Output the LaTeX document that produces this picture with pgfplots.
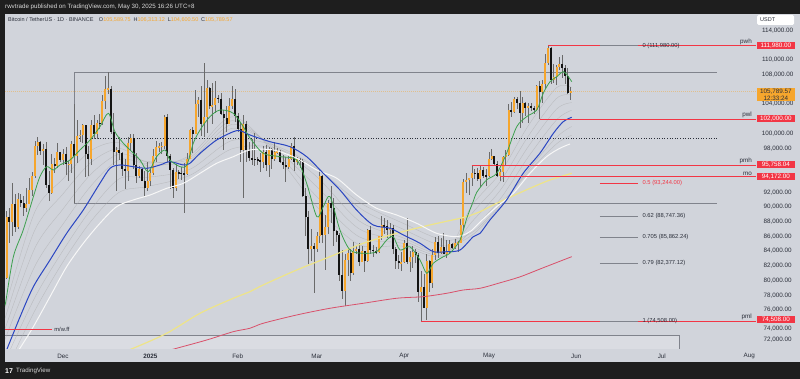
\documentclass[border=0pt]{standalone}
\usepackage{fontspec}
\setmainfont{Liberation Sans}
\usepackage{pgfplots}
\pgfplotsset{compat=1.18}
\usepackage{pgfplotstable}
\definecolor{darkbg}{HTML}{1E1E1E}
\definecolor{bg}{HTML}{D1D4DB}
\definecolor{bglight}{HTML}{DADCE2}
\definecolor{upc}{HTML}{F6A62D}
\definecolor{dnc}{HTML}{141414}
\definecolor{wick}{HTML}{6A6A6A}
\definecolor{emag}{HTML}{3DA04E}
\definecolor{emab}{HTML}{2A46C2}
\definecolor{emaw}{HTML}{F7F7F7}
\definecolor{smay}{HTML}{EEE488}
\definecolor{smar}{HTML}{D9506A}
\definecolor{tvred}{HTML}{F23645}
\definecolor{boxg}{HTML}{80838C}
\definecolor{labtxt}{HTML}{2A2E39}
\definecolor{curp}{HTML}{F6A62D}

\pgfplotstableread{
d o h l c
-20 80370 89530 80216 88648
-19 88648 89940 85072 87952
-18 87952 93265 86127 90375
-17 90375 91790 86668 87325
-16 87325 91850 87073 91032
-15 91032 91779 90056 90587
-14 90587 91449 88722 89855
-13 89855 92594 89376 90465
-12 90465 93905 90357 92310
-11 92310 94831 91500 94286
-10 94286 98988 94014 98318
-9 98318 99588 97122 98892
-8 98892 98945 97139 97672
-7 97672 98564 95734 97900
-6 97900 98871 92600 93010
-5 93010 94973 90791 91965
-4 91965 97208 91792 95863
-3 95863 96650 94613 95644
-2 95644 98694 95365 97460
-1 97460 97463 96092 96407
0 96407 97836 95693 97185
1 97185 98130 94395 95840
2 95840 96305 93578 95849
3 95849 99000 94587 98587
4 98587 104088 90500 96945
5 96945 101898 95981 99740
6 99740 100439 98844 99831
7 99831 101350 98657 101109
8 101109 101215 94150 97276
9 97276 98270 94256 96593
10 96593 101895 95658 101125
11 101125 102540 99311 100004
12 100004 101895 99205 101424
13 101424 102650 100609 101420
14 101420 105250 101237 104463
15 104463 107793 103333 106058
16 106058 108353 105321 106134
17 106134 106470 100000 100204
18 100204 102800 95700 97461
19 97461 98233 92232 97805
20 97805 99540 96398 97291
21 97291 97448 94250 95187
22 95187 96538 92520 94900
23 94900 99487 93500 98717
24 98717 99960 97600 99420
25 99420 99963 95200 95705
26 95705 97294 93253 94164
27 94164 95525 94014 95164
28 95164 95250 93500 93530
29 93530 94903 91317 92643
30 92643 96150 92120 93576
31 93576 95151 92888 94591
32 94591 97839 94392 96984
33 96984 98976 96100 98174
34 98174 98734 97562 98220
35 98220 98836 97276 98364
36 98364 102480 97929 102235
37 102235 102725 96181 96954
38 96954 97259 92500 95060
39 95060 95382 91203 92552
40 92552 95836 92206 94726
41 94726 95050 93831 94599
42 94599 95450 93711 94545
43 94545 95940 89256 94536
44 94536 97371 94346 96560
45 96560 100681 96500 100497
46 100497 100866 97335 99987
47 99987 105865 99950 104077
48 104077 104988 102277 104556
49 104556 106422 99651 101331
50 101331 109588 99550 102260
51 102260 107240 100119 106143
52 106143 106394 103339 103706
53 103706 106850 101262 103910
54 103910 107120 102750 104870
55 104870 105286 104106 104746
56 104746 105500 102520 102620
57 102620 103260 97777 102082
58 102082 103800 100272 101335
59 101335 104782 101328 103734
60 103734 106457 103319 104722
61 104722 106012 101560 102429
62 102429 102783 100279 100635
63 100635 101456 96150 97700
64 97700 102500 91231 101328
65 101328 101744 96150 97763
66 97763 98827 96252 96613
67 96613 99197 95676 96555
68 96555 100137 95620 96481
69 96481 96880 95688 96465
70 96465 97323 94713 96086
71 96086 98345 95256 97430
72 97430 98478 94876 95778
73 95778 98119 94088 97869
74 97869 98076 95217 96608
75 96608 98826 96252 97500
76 97500 97972 97223 97569
77 97569 97704 96046 96118
78 96118 97046 95205 95780
79 95780 96753 93388 95467
80 95467 96890 95172 96553
81 96553 98711 96415 98338
82 98338 99475 94871 96126
83 96126 96880 95688 96577
84 96577 96671 95270 96273
85 96273 96503 91370 91552
86 91552 92540 86050 88680
87 88680 89414 82256 84250
88 84250 87078 82716 84709
89 84709 85120 78258 84349
90 84349 86558 83824 86064
91 86064 95000 85050 94270
92 94270 94416 85117 86220
93 86221 88967 81500 87281
94 87281 91000 86334 90606
95 90606 92810 87836 89931
96 89931 91283 84667 86801
97 86801 86897 85248 86222
98 86222 86500 80000 80734
99 80734 84123 77459 78598
100 78598 83617 76606 82862
101 82862 84358 80635 83722
102 83722 84301 79931 81066
103 81066 85309 80818 83969
104 83969 84672 83639 84343
105 84343 85051 82017 82579
106 82579 84725 82492 84075
107 84075 84075 81179 82718
108 82718 87021 82569 86854
109 86854 87453 83655 84167
110 84167 84850 83175 84043
111 84043 84513 83674 83832
112 83832 86094 83795 86054
113 86054 88765 85519 87499
114 87499 88542 86346 87471
115 87471 88292 85861 86900
116 86900 87786 85837 87177
117 87177 87515 83646 84353
118 84353 84567 81634 82597
119 82597 83505 81565 82334
120 82334 83870 81293 82548
121 82548 85487 82429 85159
122 85159 88500 82320 82516
123 82516 83998 81211 83213
124 83213 84720 81659 83889
125 83889 84266 82379 83537
126 83537 83817 77153 78430
127 78430 81243 74508 79163
128 79163 80867 76239 76322
129 76322 83588 74620 82615
130 82615 82753 78464 79607
131 79607 84300 78969 83423
132 83423 85905 82792 85276
133 85276 86100 83034 83760
134 83760 85799 83678 84591
135 84591 86496 83600 83643
136 83643 85500 83111 84030
137 84030 85470 83736 84947
138 84947 85132 84303 84474
139 84474 85595 84290 85077
140 85077 85320 83949 85179
141 85179 88465 85144 87516
142 87516 93888 87076 93442
143 93442 94696 91935 93691
144 93691 94000 91660 93980
145 93980 95758 92855 94638
146 94638 95199 93870 94631
147 94631 95369 93602 93754
148 93754 95600 92800 94978
149 94978 95470 93956 94284
150 94284 95249 92910 94172
151 94172 97437 94111 96489
152 96489 97895 96350 96887
153 96887 96935 95753 95856
154 95856 96304 94151 94277
155 94277 95199 93514 94733
156 94733 96920 93377 96834
157 96834 97732 95784 97032
158 97032 103971 96913 103241
159 103241 104361 102316 102971
160 102971 104984 102818 104696
161 104696 104938 103358 104106
162 104106 105819 100719 102812
163 102812 104976 101430 104169
164 104169 104250 102363 103539
165 103539 104192 101383 103744
166 103744 104150 103111 103489
167 103489 103716 102612 103191
168 103191 106660 103105 106430
169 106430 107108 102000 105606
170 105606 107320 104184 106792
171 106792 110797 106100 109643
172 109643 111980 109285 111696
173 111696 111800 106800 107318
174 107318 109500 106863 107762
175 107762 109313 106600 109004
176 109004 110422 108670 109434
177 109434 110718 107516 108938
178 108938 109300 106682 107781
179 107781 108910 105322 105590
180 105590 106313 104600 105790
}\candles

\pgfplotstableread{
d p
-20.57 76700
-20.2 77362
-17.6 83253
-14.1 86885
-10.5 91416
-8.2 94137
-5.8 95497
-3.4 95048
-1.1 95729
2.5 96409
6.0 97769
9.6 99130
13.1 100939
16.1 102762
18.4 100259
21.4 98681
23.8 97769
27.3 96409
30.2 94817
33.2 96858
36.2 97769
37.9 96409
41.5 95497
43.9 95729
46.2 98681
48.6 100490
52.1 102300
55.7 103211
60.4 102762
63.9 100939
66.3 99400
71.0 97320
77.0 96858
82.9 96409
86.4 93239
90.0 88695
92.3 90055
94.7 91416
98.2 86885
101.8 84164
106.5 83715
111.2 83933
114.8 85525
117.1 85974
119.5 84164
123.0 84613
126.6 82804
129.0 80994
131.3 82355
134.9 83253
137.2 83715
140.8 85525
143.2 88500
145.5 90800
146.7 92000
150.2 93688
153.8 94599
157.3 97320
160.9 100939
164.4 102300
168.0 103211
170.3 105483
172.7 107061
175.1 107742
177.4 108422
179.2 107742
180.4 107061
}\green

\pgfplotstableread{
d p
-20.57 70080
-19.75 70790
-15.2 75090
-10.5 79171
-4.6 82804
1.3 86436
7.2 89606
13.1 93239
16.7 95279
20.2 95729
24.9 95497
29.7 95279
34.4 95729
37.9 96177
42.7 95729
45.0 95960
48.6 97320
54.5 99130
60.4 100259
62.8 100395
66.3 99810
73.4 98898
80.5 98218
86.4 96858
92.3 94599
98.2 92327
104.1 89606
110.0 87566
116.0 87116
120.7 86205
126.6 85076
131.3 83933
136.1 83933
140.8 84164
145.5 85974
147.9 86436
151.4 88246
157.3 90967
163.2 94599
169.1 97320
173.9 100041
177.4 101619
180.4 102218
}\blue

\pgfplotstableread{
d p
-20.57 67500
-15.2 70830
-10.5 73729
-4.6 77811
1.3 81892
7.2 85076
13.1 87797
19.0 90055
24.9 90967
30.9 91647
36.8 92558
42.7 93239
48.6 94599
54.5 95960
60.4 96858
66.3 97770
74.6 97769
82.9 96640
90.0 95048
97.1 93919
104.1 91647
111.2 89838
118.3 88926
125.4 87797
132.5 86436
139.6 85974
144.3 86654
147.9 87974
153.8 90055
159.7 91878
165.6 94599
171.5 96858
176.2 98000
179.8 98586
}\white

\pgfplotstableread{
d p
10 68500
24.9 70790
36.8 72831
48.6 75552
60.4 77593
66.3 78491
71.0 79403
82.9 81443
94.7 83253
106.5 85076
118.3 86436
130.1 87566
142.0 88590
147.9 89375
153.8 90518
165.6 92558
172.7 93688
180.4 94599
}\yellow

\pgfplotstableread{
d p
25 69200
40.3 70790
51.0 71920
60.4 73049
66.3 73512
71.0 74192
82.9 75321
94.7 76233
106.5 76913
118.3 77593
127.8 77811
136.1 78273
142.0 78722
147.9 78954
155.0 79700
162.0 80500
170.0 81700
180.4 83253
}\red

\pgfplotstableread{
d g1 g2 g3 g4 w1 w2
-20.57 76272 74844 73416 71988 69040 67520
-10 89336 86872 84408 81944 77687 75893
0 93846 91792 89738 87684 84087 82543
10 97706 96112 94518 92924 89720 88110
20 98740 97980 97220 96460 93867 92033
30 95600 96100 96200 95900 94050 92800
45 97032 96764 96496 96228 95140 94320
60 102280 101760 101240 100720 99067 97933
75 97340 97680 98020 98360 98383 98067
90 90056 91412 92768 94124 95337 95193
105 84880 85960 87040 88120 89933 90667
120 84700 85100 85500 85900 87100 87900
135 83386 83522 83658 83794 84720 85510
145 90200 89100 88000 86900 86167 86533
155 94620 93440 92260 91080 90100 90300
165 101080 99660 98240 96820 95067 94733
175 106240 104780 103320 101860 99500 98600
180.4 106270 105240 104210 103180 100967 99783
}\ribbon

\tikzset{
  plab/.style={font=\fontsize{6.3}{7}\selectfont, text=labtxt, inner sep=0.5pt},
  rbox/.style={fill=tvred, text=white, font=\fontsize{6.3}{7}\selectfont, minimum width=38pt, minimum height=7pt, inner sep=0.4pt},
  flab/.style={font=\fontsize{5.8}{7}\selectfont, text=labtxt, anchor=west, inner sep=0.5pt},
  mlab/.style={font=\fontsize{6.3}{7}\selectfont, text=labtxt, inner sep=0.5pt},
  llab/.style={font=\fontsize{6.3}{7}\selectfont, text=labtxt, anchor=south east, inner sep=0.8pt},
}

\begin{document}
\begin{tikzpicture}
\fill[darkbg] (0pt,0pt) rectangle (800pt,379pt);
\fill[bg] (5pt,17pt) rectangle (800pt,30pt);
\begin{axis}[
  at={(5pt,30pt)}, anchor=south west,
  scale only axis, width=795pt, height=335pt,
  xmin=-20.57, xmax=261.35, ymin=70690, ymax=116272,
  axis line style={draw=none}, ticks=none,
  axis background/.style={fill=bg},
]
% bottom lighter band
\addplot[draw=none, fill=bglight, forget plot] coordinates {(-20.57,70690) (218.4,70690) (218.4,72600) (-20.57,72600)} -- cycle;
\addplot[boxg, line width=0.6pt, forget plot] coordinates {(-20.57,72600) (218.4,72600) (218.4,70690)};

% range box
\addplot[boxg, line width=0.8pt, forget plot] coordinates {(231.9,108353) (4,108353) (4,90500) (231.9,90500)};
\addplot[labtxt, line width=0.5pt, dash pattern=on 1pt off 1.6pt, forget plot] coordinates {(4,99426) (231.9,99426)};

% current price line
\addplot[curp, opacity=0.45, line width=0.4pt, dash pattern=on 1pt off 1pt, forget plot] coordinates {(-20.57,105790) (245.7,105790)};

% ribbons
\foreach \col in {g1,g2,g3,g4,w1,w2}{
  \addplot[gray!70, opacity=0.55, line width=0.35pt, smooth, forget plot] table[x=d, y=\col] {\ribbon};
}

% wicks
\addplot[draw=none, mark=none, forget plot,
  error bars/.cd, y dir=both, y explicit, error mark=none,
  error bar style={draw=wick, line width=0.6pt}]
  table[x=d, y expr={(\thisrow{h}+\thisrow{l})/2}, y error expr={(\thisrow{h}-\thisrow{l})/2}] {\candles};
% up bodies
\addplot[draw=none, mark=none, forget plot,
  restrict expr to domain={\thisrow{c}-\thisrow{o}}{0:1000000},
  error bars/.cd, y dir=both, y explicit, error mark=none,
  error bar style={draw=upc, line width=2pt}]
  table[x=d, y expr={(\thisrow{o}+\thisrow{c})/2}, y error expr={max(abs(\thisrow{c}-\thisrow{o})/2,70)}] {\candles};
% down bodies
\addplot[draw=none, mark=none, forget plot,
  restrict expr to domain={\thisrow{o}-\thisrow{c}}{0.5:1000000},
  error bars/.cd, y dir=both, y explicit, error mark=none,
  error bar style={draw=dnc, line width=2pt}]
  table[x=d, y expr={(\thisrow{o}+\thisrow{c})/2}, y error expr={max(abs(\thisrow{c}-\thisrow{o})/2,70)}] {\candles};

% moving averages
\addplot[smar, line width=0.8pt, smooth] table[x=d,y=p] {\red};
\addplot[smay, line width=1.2pt, smooth] table[x=d,y=p] {\yellow};
\addplot[emaw, line width=1pt, smooth] table[x=d,y=p] {\white};
\addplot[emab, line width=1pt, smooth] table[x=d,y=p] {\blue};
\addplot[emag, line width=0.8pt, smooth] table[x=d,y=p] {\green};

% key levels
\addplot[tvred, line width=0.5pt, forget plot] coordinates {(172,111980) (245.7,111980)};
\addplot[tvred, line width=0.5pt, forget plot] coordinates {(169,102000) (245.7,102000)};
\addplot[tvred, line width=0.5pt, forget plot] coordinates {(145,95758.04) (245.7,95758.04)};
\addplot[tvred, line width=0.5pt, forget plot] coordinates {(155,94172) (245.7,94172)};
\addplot[tvred, line width=0.5pt, forget plot] coordinates {(127,74508) (245.7,74508)};
\addplot[tvred, line width=0.5pt, forget plot] coordinates {(-20.57,73400) (-3.9,73400)};

% fib levels
\addplot[boxg, line width=0.7pt, forget plot] coordinates {(190.4,111980) (203.9,111980)};
\addplot[tvred, line width=0.7pt, forget plot] coordinates {(190.4,93244) (203.9,93244)};
\addplot[boxg, line width=0.7pt, forget plot] coordinates {(190.4,88747.36) (203.9,88747.36)};
\addplot[boxg, line width=0.7pt, forget plot] coordinates {(190.4,85862.24) (203.9,85862.24)};
\addplot[boxg, line width=0.7pt, forget plot] coordinates {(190.4,82377.12) (203.9,82377.12)};
\addplot[boxg, line width=0.7pt, forget plot] coordinates {(190.4,74508) (203.9,74508)};

\node[flab] at (axis cs:205.3,111980) {0 (111,980.00)};
\node[flab, text=tvred] at (axis cs:205.3,93244) {0.5 (93,244.00)};
\node[flab] at (axis cs:205.3,88747.36) {0.62 (88,747.36)};
\node[flab] at (axis cs:205.3,85862.24) {0.705 (85,862.24)};
\node[flab] at (axis cs:205.3,82377.12) {0.79 (82,377.12)};
\node[flab] at (axis cs:205.3,74508) {1 (74,508.00)};

\node[flab] at (axis cs:-3.3,73400) {m/w.ff};

% level names
\node[llab] at (axis cs:244.6,111980) {pwh};
\node[llab] at (axis cs:244.6,102000) {pwl};
\node[llab] at (axis cs:244.6,95758.04) {pmh};
\node[llab] at (axis cs:244.6,94172) {mo};
\node[llab] at (axis cs:244.6,74508) {pml};

% price scale
\node[plab] at (axis cs:253.4,114000) {114,000.00};
\node[plab] at (axis cs:253.4,110000) {110,000.00};
\node[plab] at (axis cs:253.4,108000) {108,000.00};
\node[plab] at (axis cs:253.4,104000) {104,000.00};
\node[plab] at (axis cs:253.4,100000) {100,000.00};
\node[plab] at (axis cs:253.4,98000) {98,000.00};
\node[plab] at (axis cs:253.4,92000) {92,000.00};
\node[plab] at (axis cs:253.4,90000) {90,000.00};
\node[plab] at (axis cs:253.4,88000) {88,000.00};
\node[plab] at (axis cs:253.4,86000) {86,000.00};
\node[plab] at (axis cs:253.4,84000) {84,000.00};
\node[plab] at (axis cs:253.4,82000) {82,000.00};
\node[plab] at (axis cs:253.4,80000) {80,000.00};
\node[plab] at (axis cs:253.4,78000) {78,000.00};
\node[plab] at (axis cs:253.4,76000) {76,000.00};
\node[plab, yshift=-3.6pt] at (axis cs:253.4,74000) {74,000.00};
\node[plab] at (axis cs:253.4,72000) {72,000.00};

\node[rbox] at (axis cs:252.8,111980) {111,980.00};
\node[rbox] at (axis cs:252.8,102000) {102,000.00};
\node[rbox] at (axis cs:252.8,95758.04) {95,758.04};
\node[rbox] at (axis cs:252.8,94172) {94,172.00};
\node[rbox, yshift=1pt] at (axis cs:252.8,74508) {74,508.00};
\node[fill=upc, text=labtxt, font=\fontsize{6.3}{6.8}\selectfont, minimum width=38pt, inner sep=0.6pt, align=center] at (axis cs:252.8,105320) {105,789.57\\12:33:24};
\end{axis}

% time axis labels (strip below plot area)
\begin{scope}[every node/.style={font=\fontsize{6.3}{7}\selectfont, text=labtxt, inner sep=0.5pt}]
\node at (63pt,23pt) {Dec};
\node[font=\bfseries\fontsize{6.3}{7}\selectfont] at (150.4pt,23pt) {2025};
\node at (237.8pt,23pt) {Feb};
\node at (316.8pt,23pt) {Mar};
\node at (404.2pt,23pt) {Apr};
\node at (489.1pt,23pt) {May};
\node at (576.2pt,23pt) {Jun};
\node at (661.8pt,23pt) {Jul};
\node at (749.3pt,23pt) {Aug};
\end{scope}

% top bar texts
\node[anchor=west, text=white!85!black, font=\fontsize{6.2}{7}\selectfont, inner sep=0pt] at (5pt,372pt) {rwvtrade published on TradingView.com, May 30, 2025 16:26 UTC+8};
\node[anchor=west, font=\fontsize{5.5}{6.5}\selectfont, inner sep=0pt] at (8pt,359.5pt) {\textcolor{labtxt}{Bitcoin / TetherUS · 1D · BINANCE\quad O}\textcolor{upc}{105,589.75}\textcolor{labtxt}{\enspace H}\textcolor{upc}{106,313.12}\textcolor{labtxt}{\enspace L}\textcolor{upc}{104,600.50}\textcolor{labtxt}{\enspace C}\textcolor{upc}{105,789.57}};
\fill[white, rounded corners=1.5pt] (757pt,354pt) rectangle (794pt,364pt);
\node[anchor=west, text=labtxt, font=\fontsize{5.5}{6}\selectfont, inner sep=0pt] at (760pt,359pt) {USDT};
% footer
\node[anchor=west, text=white, font=\bfseries\fontsize{7}{7}\selectfont, inner sep=0pt] at (5pt,8pt) {17};
\node[anchor=west, text=white!85!black, font=\fontsize{6.2}{7}\selectfont, inner sep=0pt] at (16pt,8pt) {TradingView};
\end{tikzpicture}
\end{document}
